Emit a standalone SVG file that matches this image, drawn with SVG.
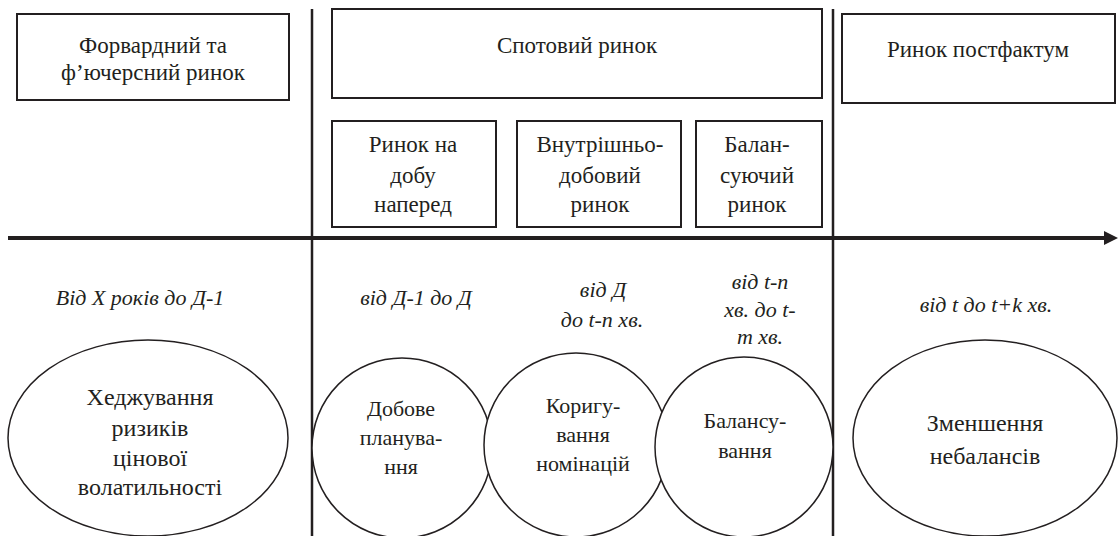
<svg xmlns="http://www.w3.org/2000/svg" width="1118" height="536" viewBox="0 0 1118 536">
<style>
  .box { fill: #fff; stroke: #231f20; stroke-width: 2; }
  .shape { fill: #fff; stroke: #231f20; stroke-width: 1.5; }
  .sep { stroke: #231f20; stroke-width: 2.5; fill: none; }
  .axis { stroke: #231f20; stroke-width: 4; fill: none; }
  text { fill: #231f20; text-anchor: middle; }
  .t { font-size: 23px; }
  .it { font-size: 22px; font-style: italic; }
  .big { font-size: 24px; }
  .mid { font-size: 22px; }
</style>
<rect width="1118" height="536" fill="#fff"/>

<g id="connectors">
  <line class="sep" x1="312" y1="9" x2="312" y2="536"/>
  <line class="sep" x1="833" y1="9" x2="833" y2="536"/>
  <line class="axis" x1="8" y1="238" x2="1106" y2="238"/>
  <path d="M1104,231 L1118,238 L1104,245 Z" fill="#231f20"/>
</g>

<g font-family="Liberation Serif, serif">
<g id="forward">
  <rect class="box" x="17" y="14" width="272" height="86"/>
  <text class="t" x="153" y="53">Форвардний та</text>
  <text class="t" x="153" y="80">ф’ючерсний ринок</text>
</g>
<g id="spot">
  <rect class="box" x="332" y="9" width="490" height="89"/>
  <text class="t" x="577" y="53">Спотовий ринок</text>
</g>
<g id="postfactum">
  <rect class="box" x="842" y="14" width="273" height="89"/>
  <text class="t" x="978" y="57">Ринок постфактум</text>
</g>
<g id="dam">
  <rect class="box" x="332" y="121" width="164" height="106"/>
  <text class="t" x="413" y="152">Ринок на</text>
  <text class="t" x="413" y="183">добу</text>
  <text class="t" x="413" y="212">наперед</text>
</g>
<g id="idm">
  <rect class="box" x="517" y="121" width="164" height="106"/>
  <text class="t" x="600" y="152">Внутрішньо-</text>
  <text class="t" x="600" y="183">добовий</text>
  <text class="t" x="600" y="212">ринок</text>
</g>
<g id="bm">
  <rect class="box" x="696" y="121" width="126" height="106"/>
  <text class="t" x="757" y="152">Балан-</text>
  <text class="t" x="757" y="183">суючий</text>
  <text class="t" x="757" y="212">ринок</text>
</g>

<g id="time-forward">
  <text class="it" x="140" y="305">Від X років до Д-1</text>
</g>
<g id="time-dam">
  <text class="it" x="416" y="305">від Д-1 до Д</text>
</g>
<g id="time-idm">
  <text class="it" x="603" y="297">від Д</text>
  <text class="it" x="602" y="327">до t-n хв.</text>
</g>
<g id="time-bm">
  <text class="it" x="760" y="289">від t-n</text>
  <text class="it" x="760" y="317">хв. до t-</text>
  <text class="it" x="760" y="344">т хв.</text>
</g>
<g id="time-post">
  <text class="it" x="986" y="312">від t до t+k хв.</text>
</g>

<g id="hedging">
  <ellipse class="shape" cx="148" cy="438" rx="140" ry="98"/>
  <text class="big" x="150" y="405">Хеджування</text>
  <text class="big" x="150" y="436">ризиків</text>
  <text class="big" x="150" y="466">цінової</text>
  <text class="big" x="150" y="495">волатильності</text>
</g>
<g id="daily">
  <ellipse class="shape" cx="402" cy="448" rx="90" ry="90"/>
  <text class="mid" x="401" y="416">Добове</text>
  <text class="mid" x="401" y="445">планува-</text>
  <text class="mid" x="401" y="474">ння</text>
</g>
<g id="correction">
  <ellipse class="shape" cx="576" cy="445" rx="92" ry="92"/>
  <text class="mid" x="583" y="413">Коригу-</text>
  <text class="mid" x="583" y="442">вання</text>
  <text class="mid" x="583" y="471">номінацій</text>
</g>
<g id="balancing">
  <ellipse class="shape" cx="744" cy="447" rx="89" ry="90"/>
  <text class="mid" x="745" y="428">Балансу-</text>
  <text class="mid" x="745" y="458">вання</text>
</g>
<g id="imbalance">
  <ellipse class="shape" cx="985" cy="438" rx="132" ry="98"/>
  <text class="big" x="985" y="431">Зменшення</text>
  <text class="big" x="985" y="464">небалансів</text>
</g>
</g>
</svg>
